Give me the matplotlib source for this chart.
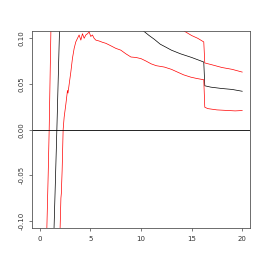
import numpy as np
import matplotlib
matplotlib.use('Agg')
import matplotlib.pyplot as plt

# upper band (red)
x_up = [0.0, 0.5, 0.69, 0.82, 0.92, 1.09, 1.3, 2.0, 4.0, 6.0, 8.0, 10.0, 12.0,
        13.5, 14.25, 15.0, 15.6, 16.2, 16.3, 17.0, 18.0, 19.0, 20.0]
y_up = [-0.30, -0.18, -0.108, -0.05, 0.0, 0.108, 0.16, 0.22, 0.26, 0.24, 0.20,
        0.16, 0.13, 0.115, 0.108, 0.103, 0.100, 0.096, 0.073, 0.071, 0.068,
        0.066, 0.063]

# estimate (black)
x_mid = [0.0, 1.0, 1.40, 1.50, 1.68, 1.94, 2.3, 3.0, 5.0, 7.0, 9.0, 10.0,
         10.24, 10.8, 11.3, 11.9, 12.5, 13.0, 13.9, 15.0, 16.2, 16.3, 16.9,
         18.0, 19.0, 20.0]
y_mid = [-0.40, -0.20, -0.108, -0.07, 0.0, 0.108, 0.13, 0.15, 0.16, 0.145,
         0.125, 0.113, 0.108, 0.103, 0.099, 0.0935, 0.090, 0.087, 0.083, 0.079,
         0.074, 0.048, 0.0465, 0.045, 0.044, 0.042]

# lower band (red)
x_lo = [0.0, 1.5, 2.0, 2.08, 2.12, 2.2, 2.3, 2.4, 2.57, 2.73, 2.78, 2.9, 3.06,
        3.22, 3.39, 3.55, 3.72, 3.88, 4.05, 4.21, 4.38, 4.54, 4.71, 4.87, 5.03,
        5.2, 5.36, 5.53, 5.86, 6.19, 6.52, 6.85, 7.17, 7.5, 8.0, 8.5, 9.0, 9.5,
        10.0, 10.5, 11.0, 11.5, 12.3, 13.0, 13.6, 14.2, 14.9, 15.5, 16.2, 16.3,
        16.6, 17.5, 18.5, 19.3, 20.0]
y_lo = [-0.30, -0.20, -0.108, -0.075, -0.07, -0.045, 0.0, 0.0136, 0.028, 0.043,
        0.040, 0.050, 0.063, 0.078, 0.089, 0.096, 0.100, 0.1036, 0.098, 0.105,
        0.100, 0.1036, 0.105, 0.107, 0.102, 0.1036, 0.100, 0.098, 0.097, 0.0956,
        0.0945, 0.0927, 0.0909, 0.089, 0.087, 0.083, 0.0795, 0.079, 0.0777,
        0.075, 0.072, 0.070, 0.0685, 0.066, 0.063, 0.060, 0.0575, 0.056, 0.0546,
        0.0245, 0.023, 0.0216, 0.021, 0.0205, 0.0209]

xticks = [0, 5, 10, 15, 20]
yticks = [-0.10, -0.05, 0.00, 0.05, 0.10]
ylabs = ['-0.10', '-0.05', '0.00', '0.05', '0.10']

fig = plt.figure(figsize=(2.67, 2.67), dpi=100)
ax = fig.add_axes([0.119, 0.145, 0.8185, 0.739])

ax.plot(x_up, y_up, color='red', lw=0.5)
ax.plot(x_mid, y_mid, color='black', lw=0.5)
ax.plot(x_lo, y_lo, color='red', lw=0.5)
ax.axhline(0, color='black', lw=0.6)

ax.set_xlim(-0.8, 20.8)
ax.set_ylim(-0.108, 0.108)
ax.set_xticks(xticks)
ax.set_yticks(yticks)
ax.set_yticklabels(ylabs, rotation=90, va='center')
ax.tick_params(labelsize=5, length=2.2, width=0.5, pad=3, color='#444444',
               labelcolor='#333333')
for s in ax.spines.values():
    s.set_linewidth(0.6)
    s.set_color('#555555')

plt.savefig('out.png', dpi=100)
